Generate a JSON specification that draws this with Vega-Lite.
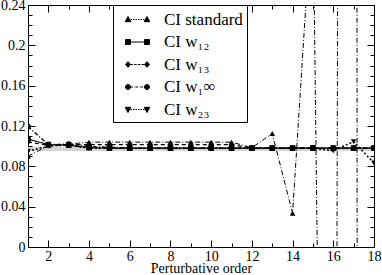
{
  "$schema": "https://vega.github.io/schema/vega-lite/v6.json",
  "width": 346,
  "height": 242,
  "autosize": {"type": "none"},
  "padding": {"left": 28, "top": 5, "right": 8, "bottom": 28},
  "background": "white",
  "config": {
    "view": {"stroke": "black", "strokeWidth": 1},
    "font": "Liberation Serif",
    "axis": {
      "domainColor": "black", "tickColor": "black", "labelColor": "black", "titleColor": "black",
      "grid": false, "labelFont": "Liberation Serif", "labelFontSize": 14,
      "titleFont": "Liberation Serif", "titleFontSize": 14, "titleFontWeight": "normal",
      "labelOverlap": false, "labelFlush": false, "labelBound": false, "tickWidth": 1, "domainWidth": 1
    }
  },
  "datasets": {
    "main": [
      {"x": 1, "v": 0.090, "s": "CI standard"}, {"x": 2, "v": 0.1005, "s": "CI standard"}, {"x": 3, "v": 0.102, "s": "CI standard"},
      {"x": 4, "v": 0.104, "s": "CI standard"}, {"x": 5, "v": 0.104, "s": "CI standard"}, {"x": 6, "v": 0.104, "s": "CI standard"},
      {"x": 7, "v": 0.104, "s": "CI standard"}, {"x": 8, "v": 0.104, "s": "CI standard"}, {"x": 9, "v": 0.104, "s": "CI standard"},
      {"x": 10, "v": 0.104, "s": "CI standard"}, {"x": 11, "v": 0.104, "s": "CI standard"}, {"x": 12, "v": 0.0985, "s": "CI standard"},
      {"x": 13, "v": 0.1125, "s": "CI standard"}, {"x": 14, "v": 0.0335, "s": "CI standard"}, {"x": 15, "v": 0.35, "s": "CI standard"},
      {"x": 16, "v": -1.32, "s": "CI standard"}, {"x": 17, "v": 6, "s": "CI standard"}, {"x": 18, "v": -29, "s": "CI standard"},

      {"x": 1, "v": 0.107, "s": "CI w₁₂"}, {"x": 2, "v": 0.1015, "s": "CI w₁₂"}, {"x": 3, "v": 0.101, "s": "CI w₁₂"},
      {"x": 4, "v": 0.0985, "s": "CI w₁₂"}, {"x": 5, "v": 0.098, "s": "CI w₁₂"}, {"x": 6, "v": 0.098, "s": "CI w₁₂"},
      {"x": 7, "v": 0.098, "s": "CI w₁₂"}, {"x": 8, "v": 0.098, "s": "CI w₁₂"}, {"x": 9, "v": 0.098, "s": "CI w₁₂"},
      {"x": 10, "v": 0.098, "s": "CI w₁₂"}, {"x": 11, "v": 0.098, "s": "CI w₁₂"}, {"x": 12, "v": 0.098, "s": "CI w₁₂"},
      {"x": 13, "v": 0.098, "s": "CI w₁₂"}, {"x": 14, "v": 0.098, "s": "CI w₁₂"}, {"x": 15, "v": 0.0983, "s": "CI w₁₂"},
      {"x": 16, "v": 0.098, "s": "CI w₁₂"}, {"x": 17, "v": 0.098, "s": "CI w₁₂"}, {"x": 18, "v": 0.098, "s": "CI w₁₂"},

      {"x": 1, "v": 0.104, "s": "CI w₁₃"}, {"x": 2, "v": 0.101, "s": "CI w₁₃"}, {"x": 3, "v": 0.1015, "s": "CI w₁₃"},
      {"x": 4, "v": 0.1015, "s": "CI w₁₃"}, {"x": 5, "v": 0.1015, "s": "CI w₁₃"}, {"x": 6, "v": 0.1015, "s": "CI w₁₃"},
      {"x": 7, "v": 0.1015, "s": "CI w₁₃"}, {"x": 8, "v": 0.1015, "s": "CI w₁₃"}, {"x": 9, "v": 0.1015, "s": "CI w₁₃"},
      {"x": 10, "v": 0.1015, "s": "CI w₁₃"}, {"x": 11, "v": 0.1015, "s": "CI w₁₃"}, {"x": 12, "v": 0.098, "s": "CI w₁₃"},
      {"x": 13, "v": 0.098, "s": "CI w₁₃"}, {"x": 14, "v": 0.098, "s": "CI w₁₃"}, {"x": 15, "v": 0.098, "s": "CI w₁₃"},
      {"x": 16, "v": 0.098, "s": "CI w₁₃"}, {"x": 17, "v": 0.098, "s": "CI w₁₃"}, {"x": 18, "v": 0.098, "s": "CI w₁₃"},

      {"x": 1, "v": 0.1195, "s": "CI w₁∞"}, {"x": 2, "v": 0.1015, "s": "CI w₁∞"}, {"x": 3, "v": 0.102, "s": "CI w₁∞"},
      {"x": 4, "v": 0.0995, "s": "CI w₁∞"}, {"x": 5, "v": 0.099, "s": "CI w₁∞"}, {"x": 6, "v": 0.098, "s": "CI w₁∞"},
      {"x": 7, "v": 0.098, "s": "CI w₁∞"}, {"x": 8, "v": 0.098, "s": "CI w₁∞"}, {"x": 9, "v": 0.098, "s": "CI w₁∞"},
      {"x": 10, "v": 0.098, "s": "CI w₁∞"}, {"x": 11, "v": 0.098, "s": "CI w₁∞"}, {"x": 12, "v": 0.098, "s": "CI w₁∞"},
      {"x": 13, "v": 0.098, "s": "CI w₁∞"}, {"x": 14, "v": 0.098, "s": "CI w₁∞"}, {"x": 15, "v": 0.098, "s": "CI w₁∞"},
      {"x": 16, "v": 0.098, "s": "CI w₁∞"}, {"x": 17, "v": 0.098, "s": "CI w₁∞"}, {"x": 18, "v": 0.098, "s": "CI w₁∞"},

      {"x": 1, "v": 0.095, "s": "CI w₂₃"}, {"x": 2, "v": 0.100, "s": "CI w₂₃"}, {"x": 3, "v": 0.101, "s": "CI w₂₃"},
      {"x": 4, "v": 0.098, "s": "CI w₂₃"}, {"x": 5, "v": 0.098, "s": "CI w₂₃"}, {"x": 6, "v": 0.098, "s": "CI w₂₃"},
      {"x": 7, "v": 0.098, "s": "CI w₂₃"}, {"x": 8, "v": 0.098, "s": "CI w₂₃"}, {"x": 9, "v": 0.098, "s": "CI w₂₃"},
      {"x": 10, "v": 0.098, "s": "CI w₂₃"}, {"x": 11, "v": 0.098, "s": "CI w₂₃"}, {"x": 12, "v": 0.098, "s": "CI w₂₃"},
      {"x": 13, "v": 0.098, "s": "CI w₂₃"}, {"x": 14, "v": 0.098, "s": "CI w₂₃"}, {"x": 15, "v": 0.098, "s": "CI w₂₃"},
      {"x": 16, "v": 0.0955, "s": "CI w₂₃"}, {"x": 17, "v": 0.1045, "s": "CI w₂₃"}, {"x": 18, "v": 0.0833, "s": "CI w₂₃"}
    ],
    "band": [{"x1": 1, "x2": 18, "g": 0.0972}]
  },
  "data": {"name": "main"},
  "layer": [
    {
      "data": {"name": "band"},
      "mark": {"type": "rule", "color": "#d4d4d4", "strokeWidth": 4, "clip": true},
      "encoding": {
        "x": {"field": "x1", "type": "quantitative", "scale": {"domain": [1, 18], "nice": false, "zero": false}, "axis": null},
        "x2": {"field": "x2"},
        "y": {"field": "g", "type": "quantitative", "scale": {"domain": [0, 0.24], "nice": false, "zero": false}, "axis": null}
      }
    },
    {
      "mark": {"type": "line", "color": "black", "clip": true},
      "encoding": {
        "x": {
          "field": "x", "type": "quantitative",
          "scale": {"domain": [1, 18], "nice": false, "zero": false},
          "axis": {
            "orient": "bottom",
            "values": [1, 2, 3, 4, 5, 6, 7, 8, 9, 10, 11, 12, 13, 14, 15, 16, 17, 18],
            "tickSize": {"condition": {"test": "datum.value % 2 == 0", "value": -7}, "value": -4},
            "labelExpr": "datum.value % 2 == 0 ? datum.label : ''",
            "labelPadding": 9,
            "title": "Perturbative order",
            "titlePadding": -5
          }
        },
        "y": {
          "field": "v", "type": "quantitative",
          "scale": {"domain": [0, 0.24], "nice": false, "zero": false},
          "axis": {
            "orient": "left",
            "values": [0, 0.01, 0.02, 0.03, 0.04, 0.05, 0.06, 0.07, 0.08, 0.09, 0.1, 0.11, 0.12, 0.13, 0.14, 0.15, 0.16, 0.17, 0.18, 0.19, 0.2, 0.21, 0.22, 0.23, 0.24],
            "tickSize": {"condition": {"test": "round(datum.value*100) % 4 == 0", "value": -7}, "value": -4},
            "labelExpr": "round(datum.value*100) % 4 == 0 ? toString(round(datum.value*100)/100) : ''",
            "labelPadding": 10,
            "title": null
          }
        },
        "detail": {"field": "s"},
        "strokeDash": {
          "field": "s", "type": "nominal",
          "scale": {"domain": ["CI standard", "CI w₁₂", "CI w₁₃", "CI w₁∞", "CI w₂₃"], "range": [[5, 2, 1, 2], [1, 0], [4, 3], [4, 2, 1, 2], [2, 2]]},
          "legend": null
        },
        "strokeWidth": {
          "field": "s", "type": "nominal",
          "scale": {"domain": ["CI standard", "CI w₁₂", "CI w₁₃", "CI w₁∞", "CI w₂₃"], "range": [1, 1.5, 1, 1, 1]},
          "legend": null
        }
      }
    },
    {
      "mark": {"type": "point", "filled": true, "color": "black", "opacity": 1, "size": 32, "clip": true},
      "encoding": {
        "x": {
          "field": "x", "type": "quantitative",
          "scale": {"domain": [1, 18], "nice": false, "zero": false},
          "axis": {
            "orient": "top",
            "values": [1, 2, 3, 4, 5, 6, 7, 8, 9, 10, 11, 12, 13, 14, 15, 16, 17, 18],
            "tickSize": {"condition": {"test": "datum.value % 2 == 0", "value": -7}, "value": -4},
            "labels": false,
            "title": null
          }
        },
        "y": {
          "field": "v", "type": "quantitative",
          "scale": {"domain": [0, 0.24], "nice": false, "zero": false},
          "axis": {
            "orient": "right",
            "values": [0, 0.01, 0.02, 0.03, 0.04, 0.05, 0.06, 0.07, 0.08, 0.09, 0.1, 0.11, 0.12, 0.13, 0.14, 0.15, 0.16, 0.17, 0.18, 0.19, 0.2, 0.21, 0.22, 0.23, 0.24],
            "tickSize": {"condition": {"test": "round(datum.value*100) % 4 == 0", "value": -7}, "value": -4},
            "labels": false,
            "title": null
          }
        },
        "shape": {
          "field": "s", "type": "nominal",
          "scale": {"domain": ["CI standard", "CI w₁₂", "CI w₁₃", "CI w₁∞", "CI w₂₃"], "range": ["triangle-up", "square", "diamond", "circle", "triangle-down"]},
          "legend": null
        }
      }
    },
    {
      "mark": {"type": "point", "filled": true, "fill": "black", "stroke": "black", "strokeWidth": 1, "opacity": 0, "clip": true},
      "encoding": {
        "x": {"field": "x", "type": "quantitative", "scale": {"domain": [1, 18], "nice": false, "zero": false}, "axis": null},
        "y": {"field": "v", "type": "quantitative", "scale": {"domain": [0, 0.24], "nice": false, "zero": false}, "axis": null},
        "shape": {
          "field": "s", "type": "nominal",
          "scale": {
            "domain": ["CI standard", "CI w₁₂", "CI w₁₃", "CI w₁∞", "CI w₂₃"],
            "range": [
              "M-0.7,0H-0.55M-0.45,0H-0.3M-0.2,0H-0.05M0.05,0H0.2M0.3,0H0.45M0.55,0H0.7M-1.23,0.22L-0.67,0.22L-0.95,-0.3ZM0.67,0.22L1.23,0.22L0.95,-0.3Z",
              "M-0.95,0H0.95M-1.2,-0.25H-0.7V0.25H-1.2ZM0.7,-0.25H1.2V0.25H0.7Z",
              "M-0.7,0H-0.45M-0.33,0H-0.08M0.04,0H0.29M0.41,0H0.66M-0.95,-0.28L-0.7,0L-0.95,0.28L-1.2,0ZM0.95,-0.28L1.2,0L0.95,0.28L0.7,0Z",
              "M-0.7,0H-0.45M-0.35,0H-0.3M-0.2,0H0.05M0.15,0H0.2M0.3,0H0.55M0.65,0H0.7M-1.2,0A0.25,0.25 0 1,0 -0.7,0A0.25,0.25 0 1,0 -1.2,0ZM0.7,0A0.25,0.25 0 1,0 1.2,0A0.25,0.25 0 1,0 0.7,0Z",
              "M-0.7,0H-0.55M-0.45,0H-0.3M-0.2,0H-0.05M0.05,0H0.2M0.3,0H0.45M0.55,0H0.7M-1.23,-0.22L-0.67,-0.22L-0.95,0.3ZM0.67,-0.22L1.23,-0.22L0.95,0.3Z"
            ]
          },
          "legend": {
            "orient": "none",
            "legendX": 85,
            "legendY": 0,
            "title": null,
            "symbolSize": 400,
            "symbolOpacity": 1,
            "symbolStrokeWidth": 1,
            "symbolOffset": 10,
            "labelOffset": 16,
            "labelFont": "Liberation Serif",
            "labelFontSize": 17,
            "labelColor": "black",
            "labelLimit": 200,
            "rowPadding": 3.5,
            "padding": 4,
            "strokeColor": "black",
            "fillColor": "white"
          }
        }
      }
    }
  ],
  "resolve": {"scale": {"shape": "independent"}, "axis": {"x": "independent", "y": "independent"}}
}
